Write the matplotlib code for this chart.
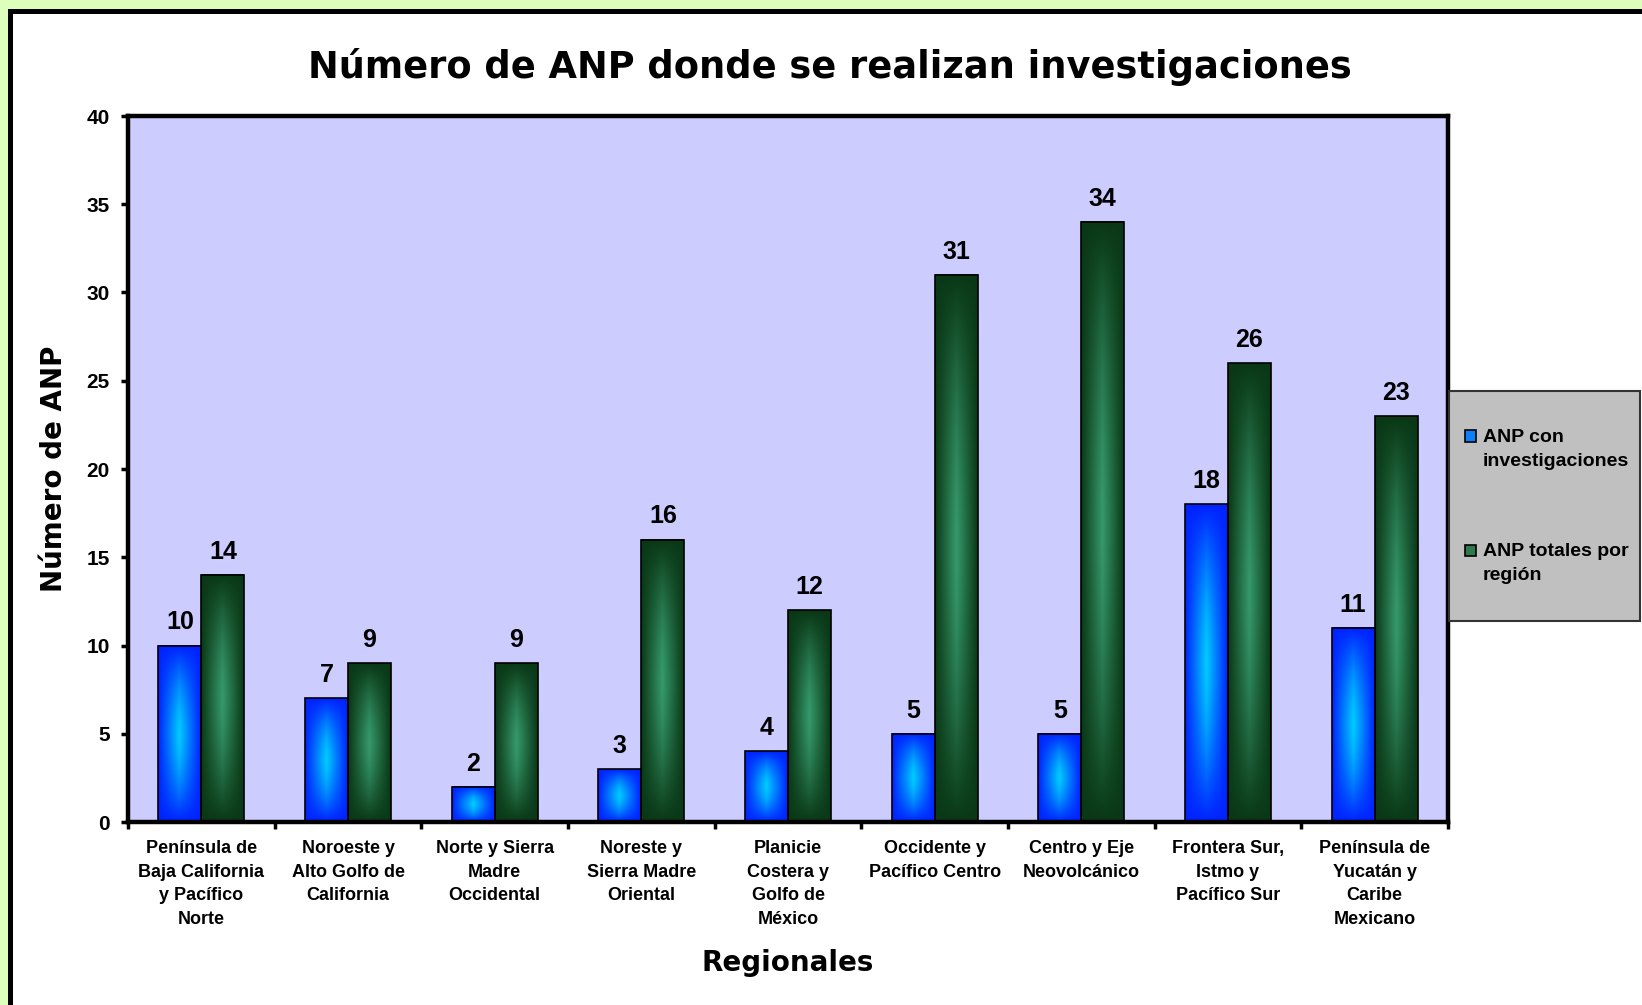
import numpy as np
import matplotlib
matplotlib.use("Agg")
import matplotlib.pyplot as plt
from matplotlib.patches import Rectangle
from matplotlib.colors import to_rgb

# data
regiones = ["Península de\nBaja California\ny Pacífico\nNorte",
            "Noroeste y\nAlto Golfo de\nCalifornia",
            "Norte y Sierra\nMadre\nOccidental",
            "Noreste y\nSierra Madre\nOriental",
            "Planicie\nCostera y\nGolfo de\nMéxico",
            "Occidente y\nPacífico Centro",
            "Centro y Eje\nNeovolcánico",
            "Frontera Sur,\nIstmo y\nPacífico Sur",
            "Península de\nYucatán y\nCaribe\nMexicano"]
con_investigaciones = [10, 7, 2, 3, 4, 5, 5, 18, 11]
totales = [14, 9, 9, 16, 12, 31, 34, 26, 23]
series_labels = ["ANP con\ninvestigaciones", "ANP totales por\nregión"]
yticks = [0, 5, 10, 15, 20, 25, 30, 35, 40]

W, H = 1642, 1005


def fx(px):
    return px / W


def fy(py):
    return 1 - py / H


def gradient(edge, center, n=100):
    u = np.linspace(-1, 1, n)
    t = 1 - (1 - np.abs(u)[None, :]) * (1 - np.abs(u)[:, None] ** 1.6)
    e = np.array(to_rgb(edge))
    c = np.array(to_rgb(center))
    return c[None, None, :] * (1 - t[..., None]) + e[None, None, :] * t[..., None]


blue_grad = gradient("#0022FF", "#00CCFF")
green_grad = gradient("#0A3816", "#369A6C")

fig = plt.figure(figsize=(W / 100, H / 100), dpi=100)
fig.patch.set_facecolor("#DDFFBB")
fig.add_artist(Rectangle((fx(9.5), -0.05), 1.2, fy(10.5) + 0.05, transform=fig.transFigure,
                         fc="white", ec="black", lw=3.6, zorder=-1))

ax = fig.add_axes([fx(128), fy(822), fx(1448) - fx(128), fy(116) - fy(822)])
ax.set_facecolor("#CCCCFF")

x = np.arange(len(regiones))
w = 0.293
b1 = ax.bar(x - w / 2, con_investigaciones, w, facecolor="none", edgecolor="black", lw=1.2, zorder=3)
b2 = ax.bar(x + w / 2, totales, w, facecolor="none", edgecolor="black", lw=1.2, zorder=3)

for bars, grad in [(b1, blue_grad), (b2, green_grad)]:
    for r in bars:
        ax.imshow(grad, extent=[r.get_x(), r.get_x() + r.get_width(), 0, r.get_height()],
                  aspect="auto", zorder=2, interpolation="bilinear")
    for r in bars:
        ax.annotate(str(int(r.get_height())), (r.get_x() + r.get_width() / 2, r.get_height()),
                    xytext=(0, 8), textcoords="offset points", ha="center", va="bottom",
                    fontsize=18, fontweight="bold", family="Liberation Sans")

ax.set_xlim(-0.5, len(regiones) - 0.5)
ax.set_ylim(0, 40)
ax.set_yticks(yticks)
ax.set_yticklabels([str(v) for v in yticks], fontsize=15, fontweight="bold", family="Liberation Sans")
ax.set_xticks(x)
ax.set_xticklabels(regiones, fontsize=13, fontweight="bold", family="Liberation Sans", linespacing=1.5)
ax.set_xticks(np.arange(-0.5, len(regiones)), minor=True)
ax.tick_params(axis="x", which="major", length=0, pad=13)
ax.tick_params(axis="x", which="minor", length=5, width=2.5, direction="out")
ax.tick_params(axis="y", length=5, width=2.5, pad=8)
for s in ax.spines.values():
    s.set_linewidth(3.2)

ax.set_ylabel("Número de ANP", fontsize=20, fontweight="bold", family="DejaVu Sans")
ax.yaxis.label.set_va("center")
ax.yaxis.set_label_coords((54 - 128) / 1320, 0.5)
ax.set_xlabel("Regionales", fontsize=20, fontweight="bold", family="DejaVu Sans")
ax.xaxis.label.set_va("center")
ax.xaxis.set_label_coords(0.5, (822 - 963) / 706)

fig.text(fx(830), fy(67), "Número de ANP donde se realizan investigaciones", ha="center", va="center",
         fontsize=26.5, fontweight="bold", family="DejaVu Sans")

# legend box
fig.add_artist(Rectangle((fx(1449), fy(621)), fx(1640) - fx(1449), fy(391) - fy(621),
                         transform=fig.transFigure, fc="#C0C0C0", ec="#333333", lw=1.5))
for (py, col, lab) in [(436, "#0A80FF", series_labels[0]), (550, "#2E7A4C", series_labels[1])]:
    fig.add_artist(Rectangle((fx(1465), fy(py + 5.5)), fx(11), 11 / H, transform=fig.transFigure,
                             fc=col, ec="black", lw=1.2))
    fig.text(fx(1483), fy(py - 7), lab, ha="left", va="top", fontsize=14, fontweight="bold",
             family="Liberation Sans", linespacing=1.55)

fig.savefig("out.png", dpi=100, facecolor=fig.get_facecolor())
